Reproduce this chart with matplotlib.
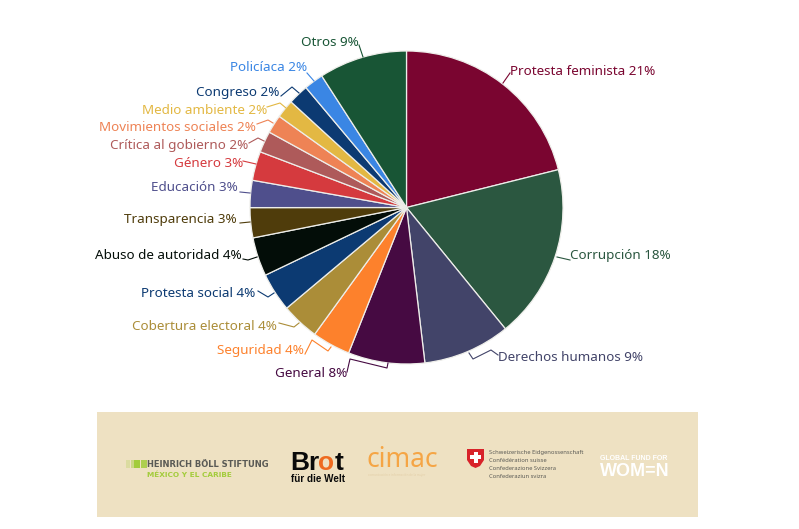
import matplotlib
matplotlib.use("Agg")
import matplotlib.pyplot as plt
from matplotlib.patches import Rectangle, Polygon

plt.rcParams['font.family'] = ['Noto Sans', 'DejaVu Sans']

categories = ["Protesta feminista", "Corrupción", "Derechos humanos", "General", "Seguridad",
              "Cobertura electoral", "Protesta social", "Abuso de autoridad", "Transparencia",
              "Educación", "Género", "Crítica al gobierno", "Movimientos sociales",
              "Medio ambiente", "Congreso", "Policíaca", "Otros"]
values = [21.1, 18.0, 9.0, 7.9, 3.95, 3.9, 4.0, 4.0, 3.1, 2.8, 3.0, 2.2, 1.9, 1.9, 2.1, 2.0, 9.1]
shown = [21, 18, 9, 8, 4, 4, 4, 4, 3, 3, 3, 2, 2, 2, 2, 2, 9]
colors = ["#7a0530", "#2b5740", "#424469", "#460a42", "#fd812c", "#ab8d38", "#0c3a72", "#030d08",
          "#4f3c0b", "#4f4f8c", "#d53a3e", "#ae5a5a", "#ee8355", "#e3b843", "#0c3a72", "#3a86e4", "#185535"]

# label anchor (x, y, ha) and leader path, in figure pixels
label_pos = [(510, 71, 'left'), (570, 255, 'left'), (498, 357, 'left'), (347, 373, 'right'),
             (304, 350, 'right'), (277, 326, 'right'), (255, 293, 'right'), (242, 255, 'right'),
             (237, 219, 'right'), (238, 187, 'right'), (243, 163, 'right'), (248, 145, 'right'),
             (256, 127, 'right'), (267, 110, 'right'), (279, 92, 'right'), (307, 67, 'right'),
             (359, 42, 'right')]
leaders = [[(503, 83), (510, 73)], [(557, 257), (570, 260)],
           [(469, 353), (473, 359), (491, 350), (498, 355)],
           [(388, 363), (387, 368), (350, 359), (347, 372)],
           [(331, 347), (328, 351), (312, 340), (305, 354)],
           [(299, 323), (294, 327), (279, 323)], [(274, 293), (268, 297), (258, 291)],
           [(257, 257), (248, 260), (243, 259)], [(250, 222), (240, 223)], [(250, 193), (240, 192)],
           [(256, 164), (243, 161)], [(264, 141), (258, 138), (249, 143)],
           [(273, 123), (268, 120), (257, 124)], [(286, 108), (280, 103), (267, 107)],
           [(299, 93), (292, 87), (281, 96)], [(314, 81), (307, 73)], [(363, 57), (359, 45)]]

fig = plt.figure(figsize=(7.99, 5.29), dpi=100)
ax = fig.add_axes([0, 0, 1, 1])

# the y axis is inverted, so a counter-clockwise pie in data space runs clockwise on screen
ax.pie(values, colors=colors, center=(406.5, 207.5), radius=156.5, startangle=-90, counterclock=True,
       wedgeprops=dict(edgecolor='#eeeeea', linewidth=0.9), frame=True)
ax.set_xlim(0, 799)
ax.set_ylim(529, 0)
ax.axis('off')

for name, pct, c, (x, y, ha), path in zip(categories, shown, colors, label_pos, leaders):
    ax.text(x, y + 0.5, f"{name} {pct}%", color=c, fontsize=9.7, ha=ha, va='center')
    ax.plot([p[0] for p in path], [p[1] for p in path], color=c, lw=0.8)

# sponsor band
LS = 'Liberation Sans'
ax.add_patch(Rectangle((97, 412), 601, 105, color='#eee1c2', lw=0))
for x, w, a in [(126, 4, 0.25), (131, 3, 0.45), (134, 6, 1.0), (141, 6, 0.85)]:
    ax.add_patch(Rectangle((x, 460), w, 8, color='#a3cc3c', alpha=a, lw=0))
ax.text(147, 464.5, "HEINRICH BÖLL STIFTUNG", color='#5a5a55', fontsize=6.0, fontweight='bold',
        va='center', family='Liberation Sans Narrow')
ax.text(147, 474.5, "MÉXICO Y EL CARIBE", color='#a3cc3c', fontsize=5.35, fontweight='bold',
        va='center', family='Liberation Sans Narrow')
ax.text(290, 463, "Br", color='#0a0a0a', fontsize=19, fontweight='bold', va='center', family=LS)
ax.text(318, 463, "o", color='#ee6a1f', fontsize=19, fontweight='bold', va='center', family=LS)
ax.text(335, 463, "t", color='#0a0a0a', fontsize=19, fontweight='bold', va='center', family=LS)
ax.text(291, 479.5, "für die Welt", color='#0a0a0a', fontsize=7.1, fontweight='bold', va='center', family=LS)
ax.text(366, 460, "cimac", color='#f5a545', fontsize=19, va='center')
ax.text(368, 475, "comunicación e información de la mujer", color='#e3cfa8', fontsize=2.2, va='center')
ax.add_patch(Polygon([(467, 449), (484, 449), (484, 460), (480, 466), (475.5, 468), (471, 466), (467, 460)],
                     closed=True, color='#d8232a', lw=0))
ax.add_patch(Rectangle((473.5, 451.5), 4, 11, color='white', lw=0))
ax.add_patch(Rectangle((470, 455), 11, 4, color='white', lw=0))
for y, t in zip([452.5, 461, 469, 477], ["Schweizerische Eidgenossenschaft", "Confédération suisse",
                                          "Confederazione Svizzera", "Confederaziun svizra"]):
    ax.text(489, y, t, color='#5a5a55', fontsize=4.2, va='center')
ax.text(600, 458.5, "GLOBAL FUND FOR", color='white', fontsize=5.0, fontweight='bold', va='center', family=LS)
ax.text(600, 471, "WOM=N", color='white', fontsize=13, fontweight='bold', va='center', family=LS)

fig.savefig("out.png", dpi=100, facecolor='white')
